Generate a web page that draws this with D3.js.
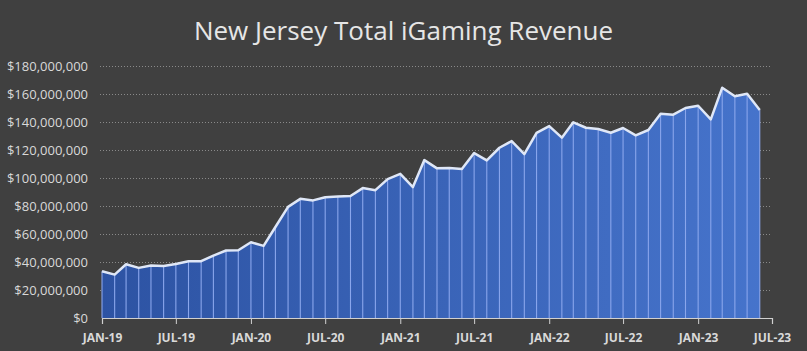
<!DOCTYPE html>
<html>
<head>
<meta charset="utf-8">
<script src="https://cdn.jsdelivr.net/npm/d3@7"></script>
<style>
  html, body { margin: 0; padding: 0; background: #404040; }
  svg { display: block; }
</style>
</head>
<body>
<div id="chart"></div>
<script>
// monthly revenue, Jan 2019 -> Jun 2023 (millions of $)
const startMonth = "2019-01";
const revenue = [
  33.4, 31.0, 38.4, 35.8, 37.5, 37.2, 38.6, 40.6, 40.6, 44.6, 48.2, 48.4,
  54.1, 51.5, 65.0, 79.4, 85.1, 84.0, 86.3, 86.8, 87.1, 92.8, 91.3, 99.2,
  103.0, 93.5, 112.8, 106.9, 107.1, 106.4, 117.8, 112.6, 121.6, 126.4, 117.1, 132.3,
  137.1, 128.8, 139.8, 135.9, 135.0, 132.3, 135.7, 130.5, 134.3, 145.9, 145.2, 150.0,
  151.6, 141.9, 164.5, 158.4, 160.2, 148.6
];
const yTicks = [0, 20, 40, 60, 80, 100, 120, 140, 160, 180];
const xTickLabels = ["JAN-19", "JUL-19", "JAN-20", "JUL-20", "JAN-21", "JUL-21", "JAN-22", "JUL-22", "JAN-23", "JUL-23"];
const title = "New Jersey Total iGaming Revenue";

const W = 807, H = 351;
const margin = { top: 66, right: 35, bottom: 33, left: 102 };

const parse = d3.timeParse("%Y-%m");
const t0 = parse(startMonth);
const data = revenue.map((v, i) => ({ date: d3.timeMonth.offset(t0, i), value: v * 1e6 }));

const svg = d3.select("#chart").append("svg")
  .attr("width", W)
  .attr("height", H);

const x = d3.scaleTime()
  .domain([t0, d3.timeMonth.offset(t0, 54)])
  .range([margin.left, W - margin.right]);

const y = d3.scaleLinear()
  .domain([0, 180e6])
  .range([H - margin.bottom, margin.top]);

// title
svg.append("text")
  .attr("x", W / 2)
  .attr("y", 40)
  .attr("text-anchor", "middle")
  .attr("fill", "#e6e6e6")
  .style("font-family", "'Open Sans', 'Noto Sans', sans-serif")
  .style("font-size", "26px")
  .text(title);

// gridlines
svg.append("g")
  .selectAll("line")
  .data(yTicks.filter(d => d > 0))
  .enter()
  .append("line")
  .attr("x1", margin.left - 2)
  .attr("x2", W - margin.right)
  .attr("y1", d => y(d * 1e6) + 0.5)
  .attr("y2", d => y(d * 1e6) + 0.5)
  .attr("stroke", "#8a8a8a")
  .attr("stroke-width", 1)
  .attr("stroke-dasharray", "1,2");

// y labels
const fmt = d3.format("$,");
svg.append("g")
  .selectAll("text")
  .data(yTicks)
  .enter()
  .append("text")
  .attr("x", margin.left - 14)
  .attr("y", d => y(d * 1e6))
  .attr("dy", "0.35em")
  .attr("text-anchor", "end")
  .attr("fill", "#d9d9d9")
  .style("font-family", "'Open Sans', 'Noto Sans', sans-serif")
  .style("font-size", "13px")
  .text(d => fmt(d * 1e6));

// gradient fill
const defs = svg.append("defs");
const grad = defs.append("linearGradient")
  .attr("id", "fillGrad")
  .attr("gradientUnits", "userSpaceOnUse")
  .attr("x1", margin.left).attr("x2", W - margin.right)
  .attr("y1", 0).attr("y2", 0);
grad.append("stop").attr("offset", "0%").attr("stop-color", "#2d53a3");
grad.append("stop").attr("offset", "100%").attr("stop-color", "#4674cc");

const area = d3.area()
  .x(d => x(d.date))
  .y0(y(0))
  .y1(d => y(d.value));

svg.append("path")
  .datum(data)
  .attr("d", area)
  .attr("fill", "url(#fillGrad)");

// month drop lines
svg.append("g")
  .selectAll("line")
  .data(data)
  .enter()
  .append("line")
  .attr("x1", d => x(d.date))
  .attr("x2", d => x(d.date))
  .attr("y1", y(0))
  .attr("y2", d => y(d.value))
  .attr("stroke", "#8aa6ec")
  .attr("stroke-width", 1.1);

// top line
const line = d3.line()
  .x(d => x(d.date))
  .y(d => y(d.value));

svg.append("path")
  .datum(data)
  .attr("d", line)
  .attr("fill", "none")
  .attr("stroke", "#dfe7f7")
  .attr("stroke-width", 2.5)
  .attr("stroke-linejoin", "round");

// x axis
const xAxis = d3.axisBottom(x)
  .tickValues(xTickLabels.map((_, i) => d3.timeMonth.offset(t0, i * 6)))
  .tickSize(6)
  .tickFormat((d, i) => xTickLabels[i]);

const gx = svg.append("g")
  .attr("transform", `translate(0,${y(0)})`)
  .call(xAxis);
gx.select(".domain").attr("stroke", "#d0d0d0").attr("stroke-width", 1.2);
gx.selectAll(".tick line").attr("stroke", "#d0d0d0");
gx.selectAll(".tick text")
  .attr("fill", "#d9d9d9")
  .attr("dy", "1.25em")
  .style("font-family", "'Open Sans', 'Noto Sans', sans-serif")
  .style("font-size", "12px")
  .style("font-weight", "bold");
</script>
</body>
</html>
